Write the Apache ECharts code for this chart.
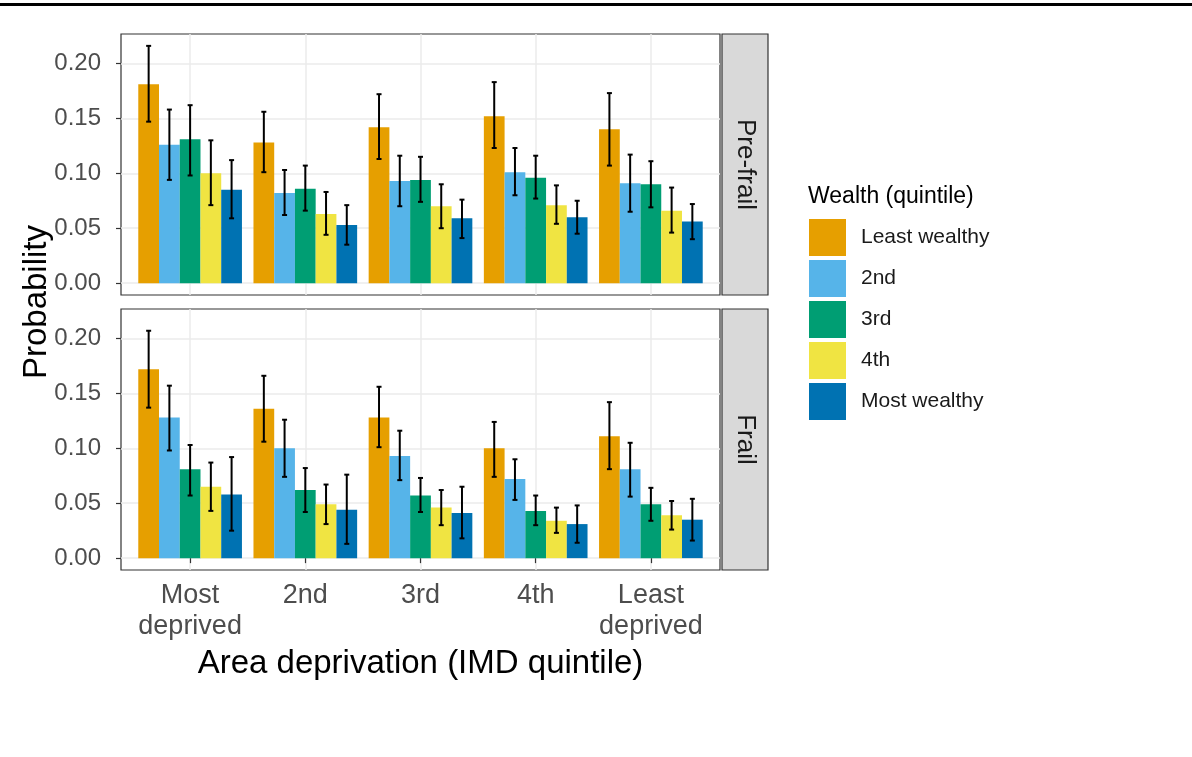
<!DOCTYPE html>
<html><head><meta charset="utf-8">
<script src="https://cdn.jsdelivr.net/npm/echarts@6/dist/echarts.min.js"></script>
<style>html,body{margin:0;padding:0;background:#fff}#c{width:1192px;height:757px}</style>
</head><body><div id="c"></div>
<script>
// IMD quintile categories (x axis)
const categories = ['Most\ndeprived', '2nd', '3rd', '4th', 'Least\ndeprived'];
// Wealth quintile groups (legend / dodge)
const wealthGroups = ['Least wealthy', '2nd', '3rd', '4th', 'Most wealthy'];
const panels = ['Pre-frail', 'Frail'];
const yTicks = [0, 0.05, 0.10, 0.15, 0.20];

// Pre-frail: rows = wealth group, columns = IMD category
const preFrailEst = [
  [0.181, 0.128, 0.142, 0.152, 0.140],
  [0.126, 0.082, 0.093, 0.101, 0.091],
  [0.131, 0.086, 0.094, 0.096, 0.090],
  [0.100, 0.063, 0.070, 0.071, 0.066],
  [0.085, 0.053, 0.059, 0.060, 0.056]
];
const preFrailLower = [
  [0.147, 0.101, 0.113, 0.123, 0.107],
  [0.094, 0.062, 0.070, 0.080, 0.065],
  [0.098, 0.066, 0.074, 0.077, 0.069],
  [0.071, 0.044, 0.050, 0.054, 0.046],
  [0.059, 0.035, 0.041, 0.045, 0.040]
];
const preFrailUpper = [
  [0.216, 0.156, 0.172, 0.183, 0.173],
  [0.158, 0.103, 0.116, 0.123, 0.117],
  [0.162, 0.107, 0.115, 0.116, 0.111],
  [0.130, 0.083, 0.090, 0.089, 0.087],
  [0.112, 0.071, 0.076, 0.075, 0.072]
];

// Frail: rows = wealth group, columns = IMD category
const frailEst = [
  [0.172, 0.136, 0.128, 0.100, 0.111],
  [0.128, 0.100, 0.093, 0.072, 0.081],
  [0.081, 0.062, 0.057, 0.043, 0.049],
  [0.065, 0.049, 0.046, 0.034, 0.039],
  [0.058, 0.044, 0.041, 0.031, 0.035]
];
const frailLower = [
  [0.137, 0.106, 0.101, 0.074, 0.081],
  [0.098, 0.074, 0.071, 0.053, 0.056],
  [0.057, 0.042, 0.042, 0.030, 0.034],
  [0.043, 0.031, 0.030, 0.023, 0.026],
  [0.025, 0.013, 0.018, 0.014, 0.016]
];
const frailUpper = [
  [0.207, 0.166, 0.156, 0.124, 0.142],
  [0.157, 0.126, 0.116, 0.090, 0.105],
  [0.103, 0.082, 0.073, 0.057, 0.064],
  [0.087, 0.067, 0.062, 0.046, 0.052],
  [0.092, 0.076, 0.065, 0.048, 0.054]
];

const colors = ['#E69F00', '#56B4E9', '#009E73', '#F0E442', '#0072B2'];
const FONT = '"Liberation Sans", Arial, Helvetica, sans-serif';
const BAR = 0.18;

const panelData = [
  {est: preFrailEst, lo: preFrailLower, hi: preFrailUpper},
  {est: frailEst, lo: frailLower, hi: frailUpper}
];

function makeRender(k, color) {
  return function (params, api) {
    const cat = api.value(0), v = api.value(1), lo = api.value(2), hi = api.value(3);
    const xc = cat + (k - 2) * BAR;
    const a = api.coord([xc - BAR / 2, v]);
    const b = api.coord([xc + BAR / 2, 0]);
    const m = api.coord([xc, hi]);
    const n = api.coord([xc, lo]);
    const cap = 2.5;
    const ls = {stroke: '#000', lineWidth: 2};
    return {
      type: 'group',
      children: [
        {type: 'rect', shape: {x: a[0], y: a[1], width: b[0] - a[0], height: b[1] - a[1]}, style: {fill: color}},
        {type: 'line', shape: {x1: m[0], y1: m[1], x2: n[0], y2: n[1]}, style: ls},
        {type: 'line', shape: {x1: m[0] - cap, y1: m[1], x2: m[0] + cap, y2: m[1]}, style: ls},
        {type: 'line', shape: {x1: n[0] - cap, y1: n[1], x2: n[0] + cap, y2: n[1]}, style: ls}
      ]
    };
  };
}

const grids = [], xAxes = [], yAxes = [], series = [];
const panelTops = [34, 309];
const catValues = categories.map((c, i) => i + 1);
panels.forEach((p, i) => {
  grids.push({left: 121, top: panelTops[i], width: 599, height: 261, show: true,
    borderColor: '#333333', borderWidth: 1.2, backgroundColor: '#fff'});
  const bottom = i === panels.length - 1;
  xAxes.push({
    type: 'value', gridIndex: i, min: 0.4, max: 5.6,
    axisLine: {show: false},
    axisTick: {show: bottom, customValues: catValues, length: 5, lineStyle: {color: '#333', width: 1.2}},
    axisLabel: {show: bottom, customValues: catValues, formatter: v => categories[Math.round(v) - 1],
      fontSize: 27, color: '#4D4D4D', lineHeight: 31, margin: 10, fontFamily: FONT},
    splitLine: {show: true, lineStyle: {color: '#EBEBEB', width: 1.5}},
    name: bottom ? 'Area deprivation (IMD quintile)' : '',
    nameLocation: 'middle', nameGap: 77,
    nameTextStyle: {fontSize: 33, color: '#000', fontFamily: FONT}
  });
  yAxes.push({
    type: 'value', gridIndex: i, min: -0.0108, max: 0.2268,
    axisLine: {show: false},
    axisTick: {show: true, customValues: yTicks, length: 5, lineStyle: {color: '#333', width: 1.2}},
    axisLabel: {customValues: yTicks, formatter: v => v.toFixed(2), fontSize: 24, color: '#4D4D4D',
      margin: 20, fontFamily: FONT},
    splitLine: {show: true, lineStyle: {color: '#EBEBEB', width: 1.5}}
  });
  const d = panelData[i];
  wealthGroups.forEach((g, k) => {
    series.push({
      type: 'custom', name: g, xAxisIndex: i, yAxisIndex: i,
      itemStyle: {color: colors[k]},
      renderItem: makeRender(k, colors[k]),
      encode: {x: 0, y: [1, 2, 3]},
      data: catValues.map((c, j) => [c, d.est[k][j], d.lo[k][j], d.hi[k][j]])
    });
  });
});

const stripGraphics = [];
panels.forEach((p, i) => {
  stripGraphics.push({type: 'rect', shape: {x: 722, y: panelTops[i], width: 46, height: 261},
    style: {fill: '#D9D9D9', stroke: '#333333', lineWidth: 1.2}});
  stripGraphics.push({type: 'text', x: 745, y: panelTops[i] + 130.5, rotation: -Math.PI / 2,
    style: {text: p, fontSize: 26, fill: '#1A1A1A', align: 'center', verticalAlign: 'middle', fontFamily: FONT}});
});

const chart = echarts.init(document.getElementById('c'), null, {renderer: 'canvas'});
chart.setOption({
  animation: false,
  backgroundColor: '#fff',
  textStyle: {fontFamily: FONT},
  grid: grids,
  xAxis: xAxes,
  yAxis: yAxes,
  legend: {
    orient: 'vertical', left: 804, top: 214, itemWidth: 37, itemHeight: 37, itemGap: 4,
    icon: 'rect', data: wealthGroups, selectedMode: false,
    textStyle: {fontSize: 21, color: '#1A1A1A', padding: [0, 0, 0, 10], fontFamily: FONT}
  },
  graphic: [
    {type: 'rect', shape: {x: 0, y: 3, width: 1192, height: 3}, style: {fill: '#000'}},
    {type: 'text', x: 37, y: 302, rotation: Math.PI / 2,
      style: {text: 'Probability', fontSize: 33, fill: '#000', align: 'center', verticalAlign: 'middle', fontFamily: FONT}},
    {type: 'text', x: 808, y: 197,
      style: {text: 'Wealth (quintile)', fontSize: 23, fill: '#000', align: 'left', verticalAlign: 'middle', fontFamily: FONT}}
  ].concat(stripGraphics),
  series: series
});
</script>
</body></html>
